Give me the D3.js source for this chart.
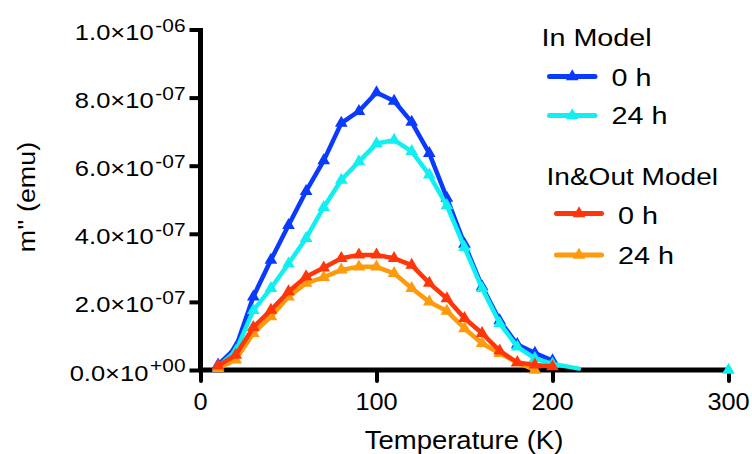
<!DOCTYPE html>
<html>
<head>
<meta charset="utf-8">
<script src="https://cdn.jsdelivr.net/npm/d3@7"></script>
<style>
  html, body { margin: 0; padding: 0; background: #fff; }
  svg { display: block; }
  text { font-family: "Liberation Sans", Arial, Helvetica, sans-serif; fill: #000; }
</style>
</head>
<body>
<svg id="chart" width="752" height="454"></svg>
<script>
// Temperature sweep (K) and out-of-phase moment m'' (in units of 1e-7 emu)
const tempsIn0 = [10, 20, 30, 40, 50, 60, 70, 80, 90, 100, 110, 120, 130, 140, 150, 160, 170, 180, 190, 200];
const inModel0h = [0.15, 0.65, 2.15, 3.23, 4.25, 5.25, 6.15, 7.25, 7.6, 8.15, 7.9, 7.28, 6.36, 5.05, 3.7, 2.45, 1.45, 0.75, 0.5, 0.28];

const tempsIn24 = [10, 20, 30, 40, 50, 60, 70, 80, 90, 100, 110, 120, 130, 140, 150, 160, 170, 180, 190, 200, 215, null, 300];
const inModel24h = [0.1, 0.55, 1.75, 2.4, 3.12, 3.87, 4.78, 5.58, 6.12, 6.65, 6.75, 6.42, 5.73, 4.83, 3.6, 2.4, 1.37, 0.68, 0.34, 0.18, 0.04, null, 0.0];

const tempsOut0 = [10, 20, 30, 40, 50, 60, 70, 80, 90, 100, 110, 120, 130, 140, 150, 160, 170, 180, 190, 200];
const inOutModel0h = [0.12, 0.44, 1.25, 1.76, 2.3, 2.74, 3.0, 3.28, 3.38, 3.38, 3.28, 3.08, 2.55, 2.1, 1.52, 1.08, 0.56, 0.22, 0.15, 0.1];

const tempsOut24 = [10, 20, 30, 40, 50, 60, 70, 80, 90, 100, 110, 120, 130, 140, 150, 160, 170, 180, 190];
const inOutModel24h = [0.05, 0.3, 1.08, 1.57, 2.15, 2.55, 2.72, 2.94, 3.03, 3.03, 2.84, 2.4, 2.0, 1.73, 1.22, 0.78, 0.49, 0.22, 0.0];

const xTicks = [0, 100, 200, 300];
const yTicks = [0, 2e-7, 4e-7, 6e-7, 8e-7, 1e-6];
const yTickMantissa = ["0.0", "2.0", "4.0", "6.0", "8.0", "1.0"];
const yTickExponent = ["+00", "-07", "-07", "-07", "-07", "-06"];

const groupTitles = ["In Model", "In&Out Model"];
const seriesLabels = ["0 h", "24 h", "0 h", "24 h"];
const seriesColors = ["#0a3aff", "#10f0f0", "#ff360a", "#ff9a0c"];

const unit = 1e-7;
// drawing order: In Model 0 h, In Model 24 h, In&Out 24 h, In&Out 0 h
const series = [
  { temps: tempsIn0, vals: inModel0h, idx: 0 },
  { temps: tempsIn24, vals: inModel24h, idx: 1 },
  { temps: tempsOut24, vals: inOutModel24h, idx: 3 },
  { temps: tempsOut0, vals: inOutModel0h, idx: 2 }
];

const svg = d3.select("#chart");

const x = d3.scaleLinear().domain([0, 300]).range([200.5, 728.5]);
const y = d3.scaleLinear().domain([0, 1e-6]).range([370, 29.5]);

// Axes
const axisStroke = 5;
const yAxis = d3.axisLeft(y).tickValues(yTicks).tickSize(11).tickFormat("");
const xAxis = d3.axisBottom(x).tickValues(xTicks).tickSize(11).tickFormat("");

const gy = svg.append("g").attr("transform", `translate(${x(0)},0)`).call(yAxis);
gy.select(".domain").remove();
gy.append("line").attr("x1", 0).attr("x2", 0).attr("y1", y(1e-6) - 1.5).attr("y2", y(0) + 2)
  .attr("stroke", "#000").attr("stroke-width", axisStroke);
gy.selectAll(".tick line").attr("stroke", "#000").attr("stroke-width", 4);

const gx = svg.append("g").attr("transform", `translate(0,${y(0)})`).call(xAxis);
gx.select(".domain").remove();
gx.append("line").attr("x1", x(0) - 2).attr("x2", x(300) + 2).attr("y1", 0).attr("y2", 0)
  .attr("stroke", "#000").attr("stroke-width", axisStroke);
gx.selectAll(".tick line").attr("stroke", "#000").attr("stroke-width", 4).attr("stroke-linecap", "round");

// Y tick labels: mantissa ×10 with superscript exponent
yTicks.forEach((v, i) => {
  const t = svg.append("text")
    .attr("transform", `translate(${x(0) - 15},${y(v) + 10.5}) scale(1.16,1)`)
    .attr("text-anchor", "end")
    .style("font-size", "22px");
  t.append("tspan").text(yTickMantissa[i] + "\u00d710");
  t.append("tspan").attr("dx", 1.5).attr("dy", -8.5).style("font-size", "18px").text(yTickExponent[i]);
});

// X tick labels
xTicks.forEach(v => {
  svg.append("text")
    .attr("transform", `translate(${x(v)},${y(0) + 40}) scale(1.1,1)`)
    .attr("text-anchor", "middle")
    .style("font-size", "23px")
    .text(v);
});

// Axis titles
svg.append("text")
  .attr("transform", `translate(464,449) scale(1.1,1)`)
  .attr("text-anchor", "middle")
  .style("font-size", "25px")
  .text("Temperature (K)");

svg.append("text")
  .attr("transform", `translate(29,197) rotate(-90) scale(1.12,1)`)
  .attr("y", 6)
  .attr("text-anchor", "middle")
  .style("font-size", "24px")
  .text("m'' (emu)");

// Series
const tri = d3.symbol().type(d3.symbolTriangle).size(70);
const lineGen = d3.line()
  .defined(d => d.t !== null && d.v !== null)
  .x(d => x(d.t))
  .y(d => y(d.v * unit));

series.forEach(s => {
  const pts = s.temps.map((t, i) => ({ t, v: s.vals[i] }));
  const color = seriesColors[s.idx];
  const g = svg.append("g");
  g.append("path")
    .datum(pts)
    .attr("d", lineGen)
    .attr("fill", "none")
    .attr("stroke", color)
    .attr("stroke-width", 4.5)
    .attr("stroke-linejoin", "round")
    .attr("stroke-linecap", "round");
  // markers at each 10 K measurement step
  g.selectAll("path.mk")
    .data(pts.filter(d => d.t !== null && d.t % 10 === 0))
    .join("path")
    .attr("class", "mk")
    .attr("d", tri)
    .attr("transform", d => `translate(${x(d.t)},${y(d.v * unit)})`)
    .attr("fill", color);
});

// Legend
const legend = svg.append("g");
const titlePos = [[541.5, 46], [546.5, 185]];
const titleScale = [1.25, 1.22];
groupTitles.forEach((t, i) => {
  legend.append("text")
    .attr("transform", `translate(${titlePos[i][0]},${titlePos[i][1]}) scale(${titleScale[i]},1)`)
    .style("font-size", "23px")
    .text(t);
});
const entryLine = [[549.5, 595, 76.5], [549.5, 595, 115.5], [556.5, 601.5, 213.5], [556.5, 601.5, 255]];
const entryText = [[611.5, 85.5], [611.5, 124], [618, 223.5], [618, 263.5]];
seriesLabels.forEach((lab, i) => {
  const [x1, x2, ly] = entryLine[i];
  legend.append("line")
    .attr("x1", x1).attr("x2", x2).attr("y1", ly).attr("y2", ly)
    .attr("stroke", seriesColors[i]).attr("stroke-width", 5).attr("stroke-linecap", "round");
  legend.append("path")
    .attr("d", tri)
    .attr("transform", `translate(${(x1 + x2) / 2},${ly})`)
    .attr("fill", seriesColors[i]);
  legend.append("text")
    .attr("transform", `translate(${entryText[i][0]},${entryText[i][1]}) scale(1.25,1)`)
    .style("font-size", "23px")
    .text(lab);
});
</script>
</body>
</html>
